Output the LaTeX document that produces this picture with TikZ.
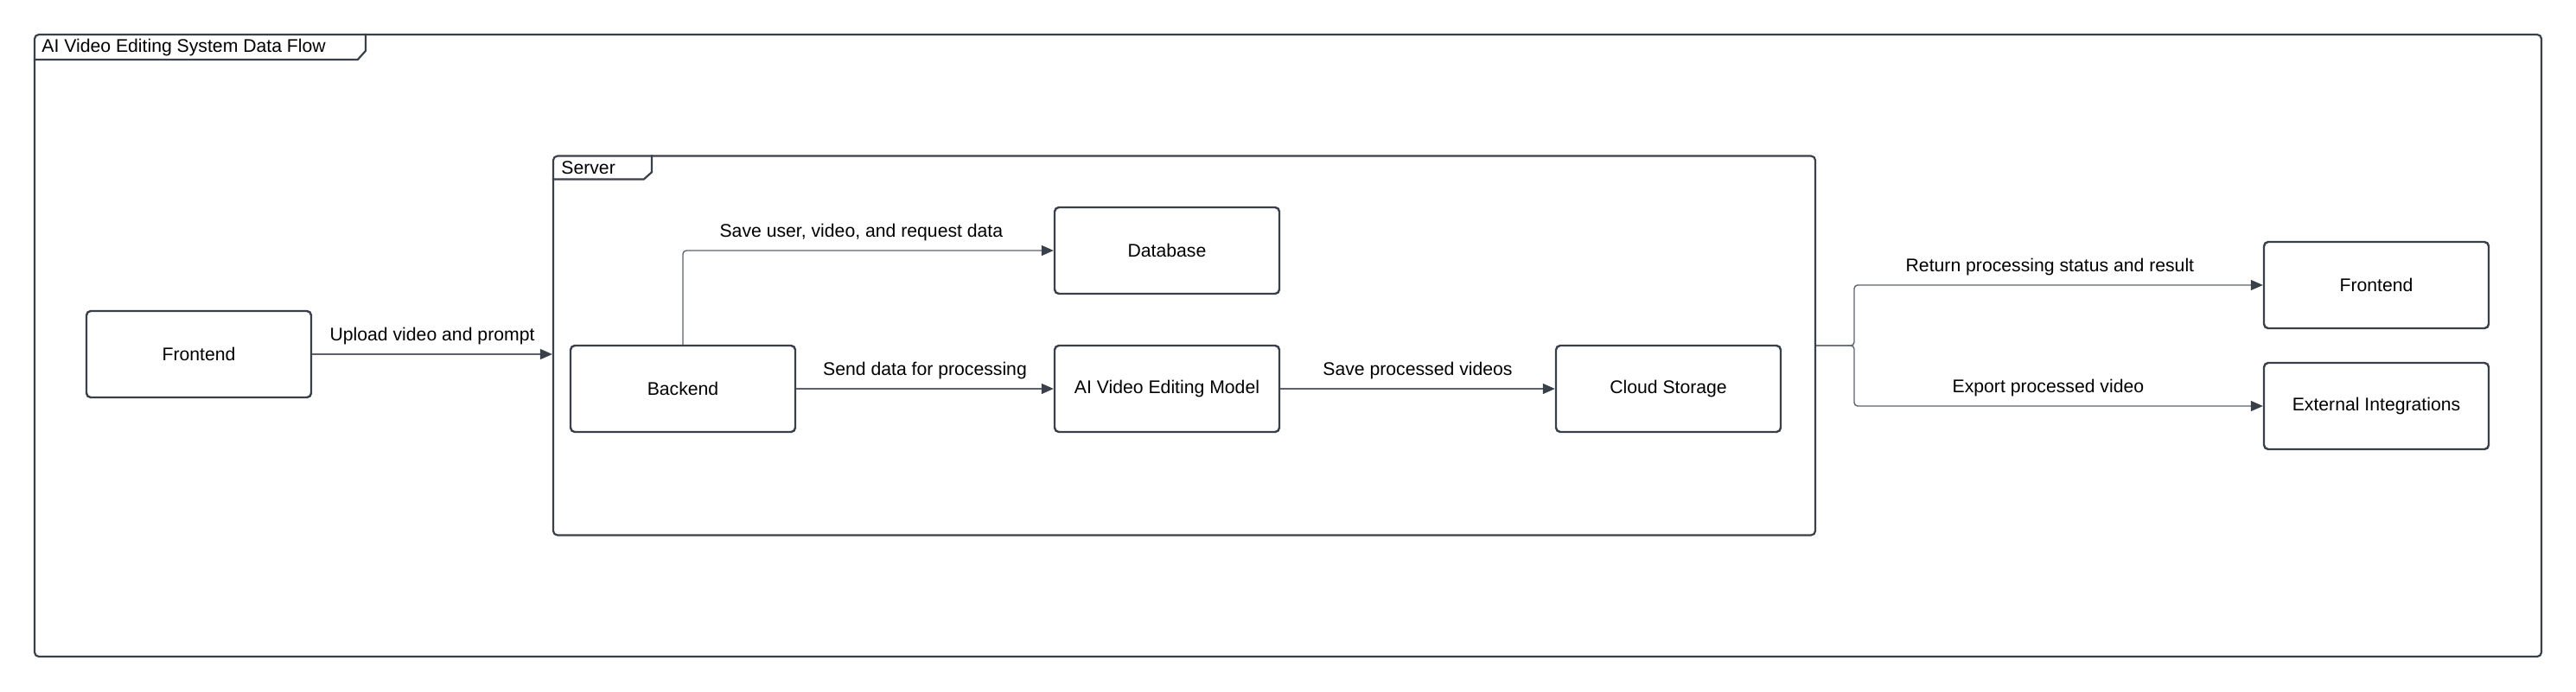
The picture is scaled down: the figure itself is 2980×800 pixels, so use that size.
\documentclass[tikz,border=0pt]{standalone}
\usepackage{fontspec}
\setmainfont{Liberation Sans}
\usetikzlibrary{arrows.meta}

\begin{document}
\begin{tikzpicture}[x=0.5pt,y=-0.5pt,
  box/.style={draw=edge,line width=1.2pt,rounded corners=2.5pt,minimum width=130pt,minimum height=50pt,font=\fontsize{10.6}{12}\selectfont},
  frame/.style={draw=edge,line width=1.1pt,rounded corners=2.5pt,inner sep=0pt},
  tab/.style={draw=edge,line width=1.1pt},
  flow/.style={draw=wire,line width=0.7pt,rounded corners=2pt,-{Triangle[length=7pt,width=6pt,color=edge]}},
  lbl/.style={font=\fontsize{10.6}{12}\selectfont,above,inner sep=5pt}]
\definecolor{edge}{HTML}{3A404A}
\definecolor{wire}{HTML}{5C626C}
\useasboundingbox (0,0) rectangle (2980,800);
% frames
\node[frame,minimum width=1450pt,minimum height=360pt] (outer) at (1490,400) {};
\draw[tab] (outer.north west) ++(0,30) -- ++(375,0) -- ++(9,-10) -- ++(0,-20);
\node[anchor=west,inner sep=3pt,font=\fontsize{10.6}{12}\selectfont] (title) at (42,55) {AI Video Editing System Data Flow};
\node[frame,minimum width=730pt,minimum height=219.5pt] (server) at (1370,400) {};
\draw[tab] (server.north west) ++(0,28) -- ++(106,0) -- ++(9,-8) -- ++(0,-20);
\node[anchor=west,inner sep=3pt,font=\fontsize{10.6}{12}\selectfont] (srvname) at (643,194) {Server};
% boxes
\node[box] (front) at (230,410) {Frontend};
\node[box] (db) at (1350,290) {Database};
\foreach \nm/\txt/\xx in {back/Backend/790,model/AI Video Editing Model/1350,cloud/Cloud Storage/1930}
  {\node[box] (\nm) at (\xx,450) {\txt};}
\node[box] (fe2) at (2749,330) {Frontend};
\node[box] (ext) at (2749,470) {External Integrations};
% flows
\coordinate (split) at (2145,400);
\draw[flow] (front) -- node[lbl]{Upload video and prompt} (front -| server.west);
\draw[flow] (back.north) |- node[lbl,pos=0.75,xshift=-4pt]{Save user, video, and request data} (db);
\draw[flow] (back) -- node[lbl]{Send data for processing} (model);
\draw[flow] (model) -- node[lbl]{Save processed videos} (cloud);
\draw[flow] (server.east) -- (split) |- node[lbl,pos=0.75,xshift=-5pt]{Return processing status and result} (fe2);
\draw[flow] (server.east) -- (split) |- node[lbl,pos=0.75,xshift=-6pt]{Export processed video} (ext);
\end{tikzpicture}
\end{document}
